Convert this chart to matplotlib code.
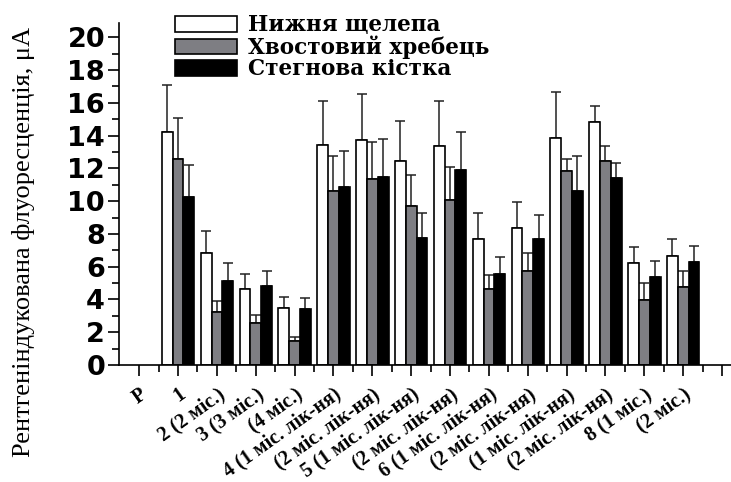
import numpy as np
import matplotlib
matplotlib.use("Agg")
import matplotlib.pyplot as plt
from matplotlib.ticker import FixedLocator, MultipleLocator

# Category labels along the x axis (position 0 is the control "P" with no bars)
categories = ["P", "1", "2 (2 міс.)", "3 (3 міс.)", "(4 міс.)",
              "4 (1 міс. лік-ня)", "(2 міс. лік-ня)", "5 (1 міс. лік-ня)",
              "(2 міс. лік-ня)", "6 (1 міс. лік-ня)", "(2 міс. лік-ня)",
              "(1 міс. лік-ня)", "(2 міс. лік-ня)", "8 (1 міс.)", "(2 міс.)"]

series_names = ["Нижня щелепа", "Хвостовий хребець", "Стегнова кістка"]

# Mean values for groups 1..14
jaw = [14.24, 6.86, 4.62, 3.46, 13.41, 13.73, 12.45, 13.39, 7.69, 8.34, 13.85, 14.81, 6.20, 6.65]
tail = [12.55, 3.25, 2.58, 1.46, 10.60, 11.35, 9.68, 10.07, 4.62, 5.74, 11.82, 12.43, 3.97, 4.74]
femur = [10.23, 5.13, 4.82, 3.44, 10.88, 11.49, 7.75, 11.88, 5.53, 7.67, 10.64, 11.39, 5.37, 6.29]

# Upper error (standard deviation)
jaw_err = [2.87, 1.34, 0.92, 0.67, 2.68, 2.79, 2.46, 2.70, 1.57, 1.63, 2.81, 1.00, 0.98, 1.02]
tail_err = [2.52, 0.67, 0.49, 0.27, 2.13, 2.28, 1.92, 2.01, 0.89, 1.11, 0.73, 0.96, 1.01, 0.98]
femur_err = [2.00, 1.08, 0.94, 0.63, 2.16, 2.30, 1.55, 2.36, 1.08, 1.50, 2.14, 0.96, 0.96, 0.98]

fig = plt.figure(figsize=(7.31, 4.82), dpi=100)
ax = fig.add_axes([0.1628, 0.2427, 0.8372, 0.709])

pos = np.arange(1, len(jaw) + 1)
w = 0.278
face = ["white", "#7e7e83", "black"]
data = [(jaw, jaw_err), (tail, tail_err), (femur, femur_err)]
handles = []
for i, ((vals, err), fc) in enumerate(zip(data, face)):
    x = pos + (i - 1) * w
    b = ax.bar(x, vals, width=w, color=fc, edgecolor="black", linewidth=1.2,
               label=series_names[i], zorder=2)
    handles.append(b)
    ax.errorbar(x, vals, yerr=[np.zeros(len(vals)), err], fmt="none",
                ecolor="#222222", elinewidth=1.1, capsize=3.9, capthick=1.1, zorder=1)

ax.set_xlim(-0.52, 15.23)
ax.set_ylim(0, 20.85)

ax.spines["top"].set_visible(False)
ax.spines["right"].set_visible(False)
for s in ("left", "bottom"):
    ax.spines[s].set_linewidth(1.2)

ax.xaxis.set_major_locator(FixedLocator(np.arange(0, 16)))
ax.xaxis.set_minor_locator(FixedLocator(np.arange(0.5, 15, 1.0)))
ax.set_xticklabels(categories + [""], rotation=35.5, ha="right", va="top",
                   rotation_mode="anchor", fontsize=14.5, fontweight="bold",
                   family="Liberation Serif")
ax.yaxis.set_major_locator(MultipleLocator(2))
ax.yaxis.set_minor_locator(MultipleLocator(1))
ax.tick_params(axis="both", which="major", direction="out", length=8, width=1.2)
ax.tick_params(axis="both", which="minor", direction="out", length=5, width=1.2)
ax.tick_params(axis="y", which="major", pad=2)
ax.tick_params(axis="x", which="major", pad=6)
for lab in ax.get_yticklabels():
    lab.set_fontsize(19.5)
    lab.set_fontweight("bold")
    lab.set_family("DejaVu Sans")

fig.text(0.032, 0.497, "Рентгеніндукована флуоресценція, μA", rotation=90,
         ha="center", va="center", fontsize=19, family="Liberation Serif")

fig.legend(handles=handles, loc="upper left", bbox_to_anchor=(0.2394, 0.970),
           frameon=False, borderpad=0, borderaxespad=0, handlelength=2.88,
           handleheight=0.75, handletextpad=0.51, labelspacing=-0.04,
           prop={"family": "DejaVu Serif", "weight": "bold", "size": 15.5})

fig.savefig("out.png", dpi=100)
